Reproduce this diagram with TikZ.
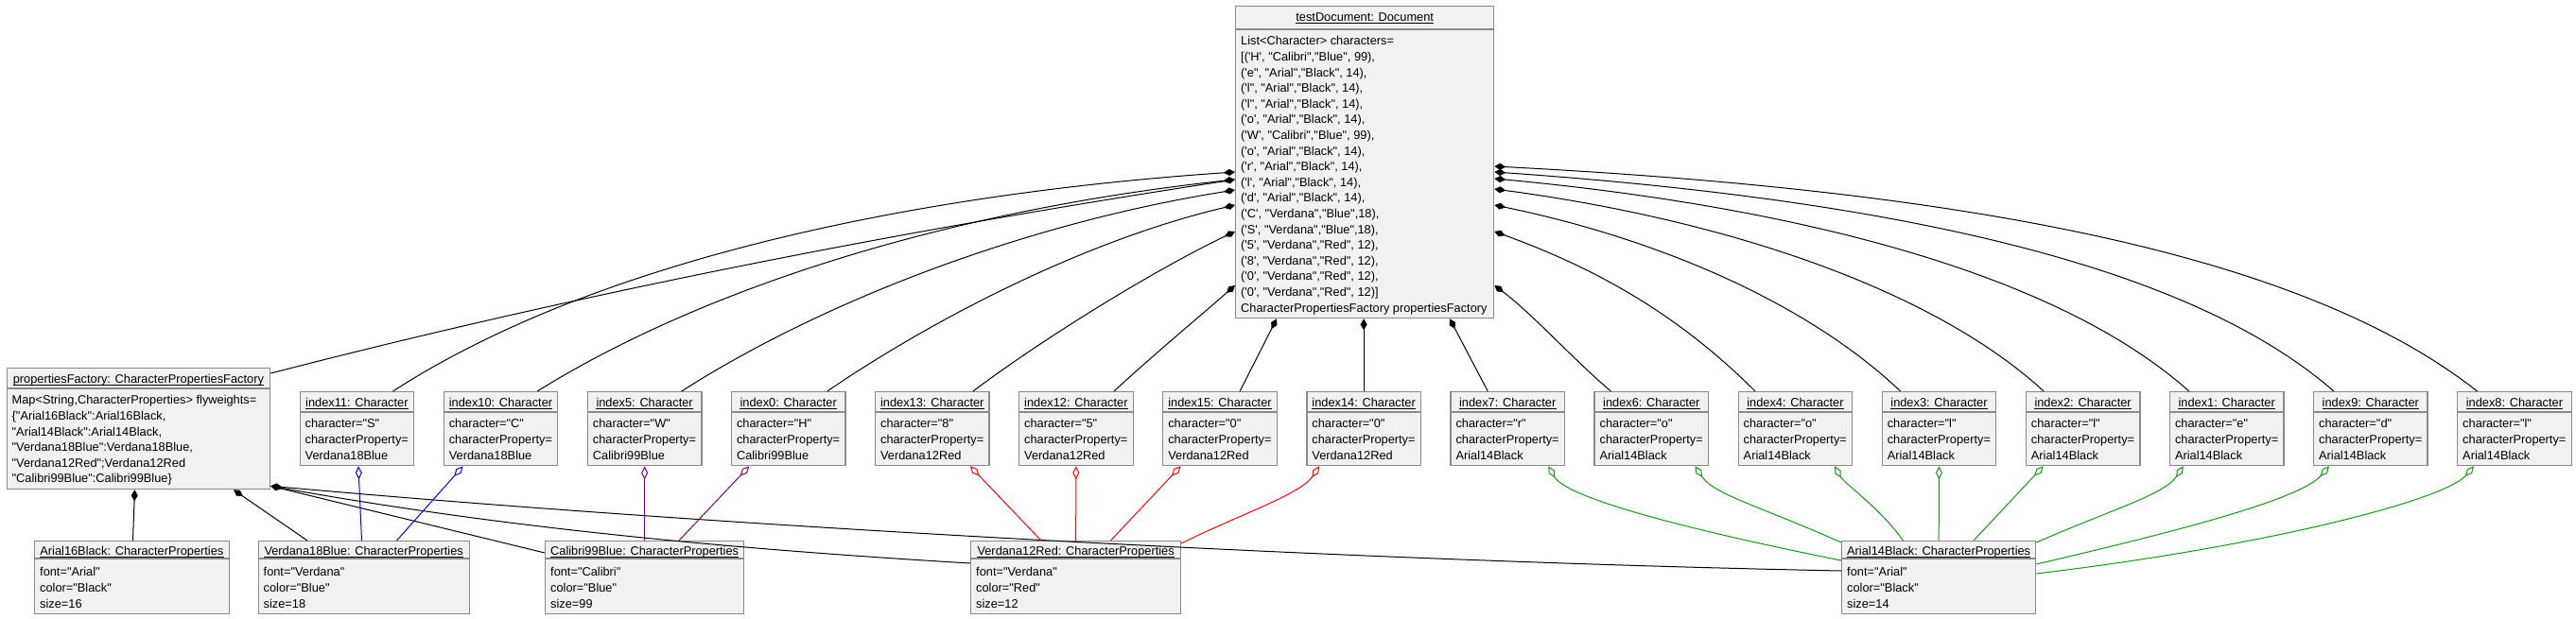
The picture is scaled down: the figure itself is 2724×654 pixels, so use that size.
\documentclass[tikz,border=0pt]{standalone}
\usepackage{fontspec}
\newfontfamily\diafont{Liberation Sans}
\usetikzlibrary{arrows.meta,calc}
\definecolor{boxfill}{HTML}{F1F1F1}
\definecolor{boxline}{HTML}{8A8A8A}
\definecolor{aggblue}{HTML}{0000FF}
\definecolor{aggpurple}{HTML}{800080}
\definecolor{aggred}{HTML}{FF0000}
\definecolor{agggreen}{HTML}{109A10}
\newcommand\objbox[5]{\node[objbox, minimum width={#4-#2}, minimum height={#5-#3}] (#1) at (#2,#3) {};}
\newcommand\objtext[6]{%
  \node[hdr] (#1-h) at ($(#1.north)+(0,#2+4.6)$) {#5};
  \draw[ulline] ($(#1-h.base west)+(0,1.8)$) -- ($(#1-h.base east)+(0,1.8)$);
  \draw[sepline] ($(#1.north west)+(0,#3)$) -- ($(#1.north east)+(0,#3)$);
  \node[bodytext] (#1-b) at ($(#1.north west)+(6,#4-6.4)$) {\rule{0pt}{11pt}#6};}
\begin{document}
\begin{tikzpicture}[x=1pt,y=-1pt,
  objbox/.style={draw=boxline, fill=boxfill, line width=1.3pt, inner sep=0pt, anchor=north west},
  hdr/.style={font=\diafont\fontsize{12.8}{16.6}\selectfont, anchor=base, inner sep=0pt},
  bodytext/.style={font=\diafont\fontsize{12.8}{16.6}\selectfont, align=left, anchor=north west, inner sep=0pt},
  ulline/.style={line width=0.9pt, black},
  sepline/.style={line width=1.1pt, boxline},
  comp/.style={draw=black, line width=1pt, {Diamond[length=12pt,width=7pt]}-},
  agg/.style={line width=1pt, {Diamond[open,fill=white,length=14pt,width=7pt]}-}]
\fill[white] (0,0) rectangle (2724,654);
\useasboundingbox (0,0) rectangle (2724,654);

% ---------- boxes (geometry) ----------
\objbox{doc}{1306}{6}{1579}{336}
\objbox{pf}{6.5}{389}{285}{517}
\objbox{i11}{316.5}{414}{437}{492}
\objbox{i10}{468.6}{414}{589.1}{492}
\objbox{i5}{620.7}{414}{741.2}{492}
\objbox{i0}{772.8}{414}{893.3}{492}
\objbox{i13}{924.9}{414}{1045.4}{492}
\objbox{i12}{1077}{414}{1197.5}{492}
\objbox{i15}{1229.1}{414}{1349.6}{492}
\objbox{i14}{1381.2}{414}{1501.7}{492}
\objbox{i7}{1533.3}{414}{1653.8}{492}
\objbox{i6}{1685.4}{414}{1805.9}{492}
\objbox{i4}{1837.5}{414}{1958}{492}
\objbox{i3}{1989.6}{414}{2110.1}{492}
\objbox{i2}{2141.7}{414}{2262.2}{492}
\objbox{i1}{2293.8}{414}{2414.3}{492}
\objbox{i9}{2445.9}{414}{2566.4}{492}
\objbox{i8}{2598}{414}{2718.5}{492}
\objbox{a16}{36}{572}{241.5}{649}
\objbox{v18}{272.5}{572}{495.6}{649}
\objbox{c99}{576}{572}{786}{649}
\objbox{v12}{1026}{572}{1248}{649}
\objbox{a14}{1947}{572}{2152}{649}

% ---------- composition: testDocument -> parts ----------
\draw[comp] ($(doc.north west)+(0,184)$) .. controls +(-340,52) and +(340,-88) .. ($(pf.north east)+(0,6)$);
\draw[comp] ($(doc.north west)+(0,176)$) .. controls +(-350,24) and +(210,-136) .. ($(i11.north west)+(99,0)$);
\draw[comp] ($(doc.north west)+(0,184)$) .. controls +(-280,30) and +(190,-118) .. ($(i10.north west)+(99.5,0)$);
\draw[comp] ($(doc.north west)+(0,195)$) .. controls +(-220,35) and +(150,-96) .. ($(i5.north west)+(100,0)$);
\draw[comp] ($(doc.north west)+(0,211)$) .. controls +(-150,35) and +(120,-82) .. ($(i0.north west)+(102,0)$);
\draw[comp] ($(doc.north west)+(0,239)$) .. controls +(-80,38) and +(80,-60) .. ($(i13.north west)+(104,0)$);
\draw[comp] ($(doc.north west)+(0,296)$) .. controls +(-40,35) and +(40,-37) .. ($(i12.north west)+(101,0)$);
\draw[comp] ($(doc.south west)+(44,0)$) -- ($(i15.north west)+(82,0)$);
\draw[comp] (doc.south -| i14.north) -- (i14.north);
\draw[comp] ($(doc.south west)+(227,0)$) -- ($(i7.north west)+(40,0)$);
\draw[comp] ($(doc.north east)+(0,296)$) .. controls +(40,30) and +(-40,-34) .. ($(i6.north west)+(18,0)$);
\draw[comp] ($(doc.north east)+(0,239)$) .. controls +(110,40) and +(-80,-80) .. ($(i4.north west)+(18.5,0)$);
\draw[comp] ($(doc.north east)+(0,211)$) .. controls +(170,35) and +(-100,-95) .. ($(i3.north west)+(20,0)$);
\draw[comp] ($(doc.north east)+(0,194)$) .. controls +(240,32) and +(-120,-110) .. ($(i2.north west)+(19.5,0)$);
\draw[comp] ($(doc.north east)+(0,183)$) .. controls +(320,30) and +(-140,-125) .. ($(i1.north west)+(21,0)$);
\draw[comp] ($(doc.north east)+(0,176)$) .. controls +(400,28) and +(-160,-140) .. ($(i9.north west)+(22,0)$);
\draw[comp] ($(doc.north east)+(0,170)$) .. controls +(480,25) and +(-190,-150) .. ($(i8.north west)+(21.5,0)$);

% ---------- composition: propertiesFactory -> flyweights ----------
\draw[comp] ($(pf.south west)+(136,0)$) -- ($(a16.north west)+(104.5,0)$);
\draw[comp] ($(pf.south west)+(240.5,0)$) -- ($(v18.north west)+(52.5,0)$);
\draw[comp] ($(pf.south east)+(0,-4)$) -- ($(c99.north west)+(0,13)$);
\draw[comp] ($(pf.south east)+(0,-4)$) .. controls +(250,45) and +(-250,-15) .. ($(v12.north west)+(0,24)$);
\draw[comp] ($(pf.south east)+(0,-4)$) .. controls +(500,45) and +(-500,-10) .. ($(a14.north west)+(0,32)$);

% ---------- aggregation: characters -> properties ----------
\draw[agg,aggblue] ($(i11.south west)+(62.5,0)$) -- ($(v18.north west)+(110,0)$);
\draw[agg,aggblue] ($(i10.south west)+(21,0)$) -- ($(v18.north west)+(147,0)$);
\draw[agg,aggpurple] (i5.south) -- (c99.north);
\draw[agg,aggpurple] ($(i0.south west)+(19.5,0)$) -- ($(c99.north west)+(142,0)$);
\draw[agg,aggred] ($(i13.south west)+(101,0)$) -- ($(v12.north west)+(75,0)$);
\draw[agg,aggred] (i12.south) -- (v12.north);
\draw[agg,aggred] ($(i15.south west)+(19.5,0)$) -- ($(v12.north west)+(148.5,0)$);
\draw[agg,aggred] ($(i14.south west)+(14,0)$) .. controls +(-20,30) and +(60,-30) .. ($(v12.north east)+(0,3)$);
\draw[agg,agggreen] ($(i7.south west)+(104,0)$) .. controls +(20,35) and +(-150,-30) .. ($(a14.north west)+(0,21)$);
\draw[agg,agggreen] ($(i6.south west)+(107,0)$) .. controls +(20,30) and +(-90,-40) .. ($(a14.north west)+(0,2)$);
\draw[agg,agggreen] ($(i4.south west)+(102.5,0)$) .. controls +(10,18) and +(-25,-35) .. ($(a14.north west)+(65.5,0)$);
\draw[agg,agggreen] (i3.south) -- (a14.north);
\draw[agg,agggreen] ($(i2.south west)+(19,0)$) -- ($(a14.north west)+(140,0)$);
\draw[agg,agggreen] ($(i1.south west)+(15,0)$) .. controls +(-20,30) and +(80,-35) .. ($(a14.north east)+(0,2)$);
\draw[agg,agggreen] ($(i9.south west)+(17,0)$) .. controls +(-30,35) and +(150,-35) .. ($(a14.north east)+(0,25)$);
\draw[agg,agggreen] ($(i8.south west)+(18,0)$) .. controls +(-30,35) and +(250,-30) .. ($(a14.north east)+(0,35)$);

% ---------- box texts ----------
\objtext{doc}{12.3}{25}{37}{testDocument: Document}{List<Character> characters=\\
{[}('H', "Calibri","Blue", 99),\\
('e", "Arial","Black", 14),\\
('l", "Arial","Black", 14),\\
('l", "Arial","Black", 14),\\
('o', "Arial","Black", 14),\\
('W', "Calibri","Blue", 99),\\
('o', "Arial","Black", 14),\\
('r', "Arial","Black", 14),\\
('l', "Arial","Black", 14),\\
('d', "Arial","Black", 14),\\
('C', "Verdana","Blue",18),\\
('S', "Verdana","Blue",18),\\
('5', "Verdana","Red", 12),\\
('8', "Verdana","Red", 12),\\
('0', "Verdana","Red", 12),\\
('0', "Verdana","Red", 12)]\\
CharacterPropertiesFactory propertiesFactory}
\objtext{pf}{12}{22}{34}{propertiesFactory: CharacterPropertiesFactory}{Map<String,CharacterProperties> flyweights=\\
\{"Arial16Black":Arial16Black,\\
"Arial14Black":Arial14Black,\\
"Verdana18Blue":Verdana18Blue,\\
"Verdana12Red";Verdana12Red\\
"Calibri99Blue":Calibri99Blue\}}
\objtext{i11}{12}{22}{34}{index11: Character}{character="S"\\characterProperty=\\Verdana18Blue}
\objtext{i10}{12}{22}{34}{index10: Character}{character="C"\\characterProperty=\\Verdana18Blue}
\objtext{i5}{12}{22}{34}{index5: Character}{character="W"\\characterProperty=\\Calibri99Blue}
\objtext{i0}{12}{22}{34}{index0: Character}{character="H"\\characterProperty=\\Calibri99Blue}
\objtext{i13}{12}{22}{34}{index13: Character}{character="8"\\characterProperty=\\Verdana12Red}
\objtext{i12}{12}{22}{34}{index12: Character}{character="5"\\characterProperty=\\Verdana12Red}
\objtext{i15}{12}{22}{34}{index15: Character}{character="0"\\characterProperty=\\Verdana12Red}
\objtext{i14}{12}{22}{34}{index14: Character}{character="0"\\characterProperty=\\Verdana12Red}
\objtext{i7}{12}{22}{34}{index7: Character}{character="r"\\characterProperty=\\Arial14Black}
\objtext{i6}{12}{22}{34}{index6: Character}{character="o"\\characterProperty=\\Arial14Black}
\objtext{i4}{12}{22}{34}{index4: Character}{character="o"\\characterProperty=\\Arial14Black}
\objtext{i3}{12}{22}{34}{index3: Character}{character="l"\\characterProperty=\\Arial14Black}
\objtext{i2}{12}{22}{34}{index2: Character}{character="l"\\characterProperty=\\Arial14Black}
\objtext{i1}{12}{22}{34}{index1: Character}{character="e"\\characterProperty=\\Arial14Black}
\objtext{i9}{12}{22}{34}{index9: Character}{character="d"\\characterProperty=\\Arial14Black}
\objtext{i8}{12}{22}{34}{index8: Character}{character="l"\\characterProperty=\\Arial14Black}
\objtext{a16}{11}{19}{33}{Arial16Black: CharacterProperties}{font="Arial"\\color="Black"\\size=16}
\objtext{v18}{11}{19}{33}{Verdana18Blue: CharacterProperties}{font="Verdana"\\color="Blue"\\size=18}
\objtext{c99}{11}{19}{33}{Calibri99Blue: CharacterProperties}{font="Calibri"\\color="Blue"\\size=99}
\objtext{v12}{11}{19}{33}{Verdana12Red: CharacterProperties}{font="Verdana"\\color="Red"\\size=12}
\objtext{a14}{11}{19}{33}{Arial14Black: CharacterProperties}{font="Arial"\\color="Black"\\size=14}
\end{tikzpicture}
\end{document}
